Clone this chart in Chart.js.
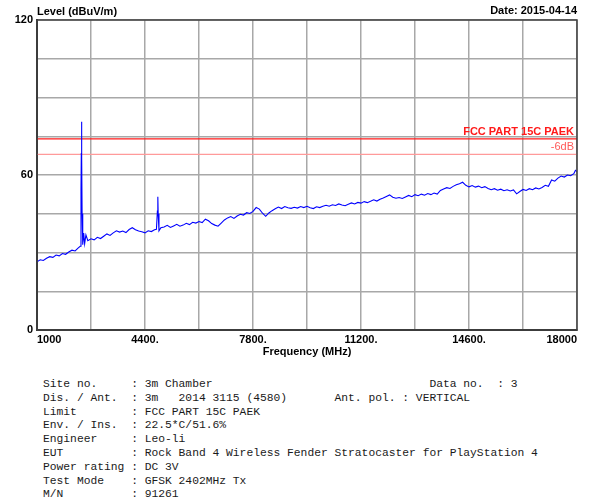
<!DOCTYPE html>
<html lang="en">
<head>
<meta charset="UTF-8">
<title>Level vs Frequency</title>
<script src="https://cdn.jsdelivr.net/npm/chart.js"></script>
<style>
    body {
        margin: 0;
        background: #fff;
    }

    .plot {
        position: relative;
        width: 596px;
        height: 365px;
    }

    pre.info {
        position: absolute;
        left: 43px;
        top: 378px;
        margin: 0;
        font-family: "Liberation Mono", "Courier New", monospace;
        font-size: 11.3px;
        line-height: 13.8px;
        color: #1a1a1a;
    }
</style>
</head>
<body>

<div class="plot"><canvas id="scan"></canvas></div>

<pre class="info">Site no.     : 3m Chamber                                Data no.  : 3
Dis. / Ant.  : 3m   2014 3115 (4580)       Ant. pol. : VERTICAL
Limit        : FCC PART 15C PAEK
Env. / Ins.  : 22.5*C/51.6%
Engineer     : Leo-li
EUT          : Rock Band 4 Wireless Fender Stratocaster for PlayStation 4
Power rating : DC 3V
Test Mode    : GFSK 2402MHz Tx
M/N          : 91261</pre>

<script>
    // sweep points (MHz) and measured level (dBuV/m)
    const freqs = [
        1000, 1100, 1200, 1300, 1400, 1500, 1600, 1700, 1800, 1900,
        2000, 2100, 2200, 2300,
        2360, 2385, 2395, 2402, 2410, 2420, 2440, 2470, 2500, 2540,
        2600, 2700, 2800, 2900, 3000, 3100, 3200, 3300, 3400, 3500,
        3600, 3700, 3800, 3900, 4000, 4100, 4200, 4300, 4400, 4500,
        4600, 4700,
        4760, 4790, 4804, 4815, 4840,
        4900, 5000, 5100, 5200, 5300, 5400, 5500, 5600, 5700, 5800,
        5900, 6000, 6100, 6200, 6300, 6400, 6500, 6600, 6700, 6800,
        6900, 7000, 7100, 7200, 7300, 7400, 7500, 7600, 7700, 7800,
        7900, 8000, 8100, 8200, 8300, 8400, 8500, 8600, 8700, 8800,
        8900, 9000, 9100, 9200, 9300, 9400, 9500, 9600, 9700, 9800,
        9900, 10000, 10100, 10200, 10300, 10400, 10500, 10600, 10700, 10800,
        10900, 11000, 11100, 11200, 11300, 11400, 11500, 11600, 11700, 11800,
        11900, 12000, 12100, 12200, 12300, 12400, 12500, 12600, 12700, 12800,
        12900, 13000, 13100, 13200, 13300, 13400, 13500, 13600, 13700, 13800,
        13900, 14000, 14100, 14200, 14300, 14400, 14500, 14600, 14700, 14800,
        14900, 15000, 15100, 15200, 15300, 15400, 15500, 15600, 15700, 15800,
        15900, 16000, 16100, 16200, 16300, 16400, 16500, 16600, 16700, 16800,
        16900, 17000, 17100, 17200, 17300, 17400, 17500, 17600, 17700, 17800,
        17900, 17950, 18000
    ];
    const levels = [
        26.4, 27.2, 26.9, 27.8, 28.4, 28.1, 29.0, 28.7, 29.6, 29.3,
        30.2, 30.9, 30.6, 31.8,
        32.4, 54.0, 68.5, 80.6, 67.0, 45.0, 33.0, 37.5, 33.4, 36.8,
        34.6, 35.3, 34.9, 35.9, 35.4, 36.3, 37.2, 36.6, 37.6, 38.4,
        37.9, 38.3, 37.7, 38.9, 39.6, 38.8, 38.3, 38.0, 37.6, 38.4,
        38.1, 38.8,
        39.0, 46.0, 51.6, 45.0, 38.4,
        39.6, 39.9, 40.5, 39.7, 40.3, 40.9, 40.2, 40.6, 41.3, 40.8,
        41.7, 41.4, 42.0, 41.6, 42.9, 42.3, 41.2, 40.6, 40.2, 41.4,
        42.6, 43.4, 43.9, 43.2, 44.1, 44.8, 44.5, 45.4, 45.1, 45.9,
        47.4, 46.8, 45.2, 44.0, 45.3, 46.2, 46.9, 47.6, 47.0, 47.8,
        47.3, 47.1, 47.5, 47.2, 47.8, 47.4, 47.9, 47.3, 47.0, 47.7,
        47.4, 47.9, 48.3, 47.9, 48.5, 48.2, 48.8, 48.4, 48.1, 48.7,
        49.2, 48.8, 49.4, 49.1, 49.7, 49.3, 49.8, 50.4, 49.9, 50.6,
        51.1, 51.7, 52.3, 51.4, 51.0, 51.3, 50.9, 51.5, 52.1, 51.6,
        52.4, 52.0, 52.6, 52.2, 52.8, 52.4, 53.0, 52.6, 54.0, 54.6,
        55.1, 54.8, 55.6, 56.2, 56.6, 57.2, 56.0, 55.4, 55.9, 55.3,
        55.7, 55.1, 55.5, 54.8, 54.3, 54.7, 54.1, 54.5, 53.9, 54.3,
        53.8, 54.2, 52.7, 53.6, 54.4, 54.0, 54.7, 54.3, 55.0, 54.6,
        55.2, 56.0, 55.6, 58.1, 57.6, 58.8, 59.6, 59.2, 60.0, 59.7,
        60.5, 61.8, 61.3
    ];

    const limitLevel = 74;      // FCC PART 15C PAEK
    const marginDb = 6;
    const xTickLabels = ['1000', '4400.', '7800.', '11200.', '14600.', '18000'];
    const yTickLabels = [0, 60, 120];

    const FONT = '"Liberation Sans", Arial, sans-serif';

    const trace = freqs.map((f, i) => ({ x: f, y: levels[i] }));
    const span = [freqs[0], freqs[freqs.length - 1]];

    // header texts, frame and limit captions
    const decor = {
        id: 'decor',
        afterDatasetsDraw(chart) {
            const { ctx, chartArea: a } = chart;
            const y = chart.scales.y;
            ctx.save();
            ctx.strokeStyle = '#404040';
            ctx.lineWidth = 1.5;
            ctx.strokeRect(a.left, a.top, a.right - a.left, a.bottom - a.top);

            ctx.textBaseline = 'middle';
            ctx.fillStyle = '#000';
            ctx.font = 'bold 11px ' + FONT;
            ctx.textAlign = 'left';
            ctx.fillText('Level (dBuV/m)', a.left, 12);
            ctx.textAlign = 'right';
            ctx.fillText('Date: 2015-04-14', a.right, 11);

            ctx.fillStyle = '#ff1a1a';
            ctx.fillText('FCC PART 15C PAEK', a.right - 3, y.getPixelForValue(limitLevel) - 7);
            ctx.fillStyle = '#ff5a5a';
            ctx.font = '11px ' + FONT;
            ctx.fillText('-' + marginDb + 'dB', a.right - 3, y.getPixelForValue(limitLevel - marginDb) - 7);
            ctx.restore();
        }
    };

    new Chart(document.getElementById('scan'), {
        type: 'line',
        data: {
            datasets: [
                {
                    label: 'Level',
                    data: trace,
                    borderColor: '#0000ff',
                    borderWidth: 1.1,
                    pointRadius: 0,
                    tension: 0
                },
                {
                    label: 'Limit',
                    data: span.map(f => ({ x: f, y: limitLevel })),
                    borderColor: '#ff1a1a',
                    borderWidth: 1.2,
                    pointRadius: 0
                },
                {
                    label: 'Margin',
                    data: span.map(f => ({ x: f, y: limitLevel - marginDb })),
                    borderColor: '#ff9a9a',
                    borderWidth: 1.2,
                    pointRadius: 0
                }
            ]
        },
        options: {
            responsive: true,
            maintainAspectRatio: false,
            animation: false,
            layout: { padding: { top: 20, right: 19, left: 0, bottom: 0 } },
            plugins: {
                legend: { display: false },
                tooltip: { enabled: false }
            },
            scales: {
                x: {
                    type: 'linear',
                    min: 1000,
                    max: 18000,
                    afterFit: s => { s.height = 35; },
                    grid: { color: '#a8a8a8', lineWidth: 1.5, drawTicks: false },
                    border: { color: '#333', width: 2 },
                    ticks: {
                        stepSize: 1700,
                        autoSkip: false,
                        maxRotation: 0,
                        align: 'inner',
                        padding: 3,
                        color: '#000',
                        font: { family: FONT, size: 11, weight: 'bold' },
                        callback: (v, i) => i % 2 === 0 ? xTickLabels[i / 2] : ''
                    },
                    title: {
                        display: true,
                        text: 'Frequency (MHz)',
                        color: '#000',
                        font: { family: FONT, size: 11, weight: 'bold' },
                        padding: { top: 0, bottom: 6 }
                    }
                },
                y: {
                    min: 0,
                    max: 120,
                    afterFit: s => { s.width = 37; },
                    grid: { color: '#a8a8a8', lineWidth: 1.5, drawTicks: false },
                    border: { color: '#333', width: 2 },
                    ticks: {
                        stepSize: 15,
                        autoSkip: false,
                        padding: 4,
                        color: '#000',
                        font: { family: FONT, size: 11, weight: 'bold' },
                        callback: v => yTickLabels.includes(v) ? String(v) : ''
                    }
                }
            }
        },
        plugins: [decor]
    });
</script>
</body>
</html>
